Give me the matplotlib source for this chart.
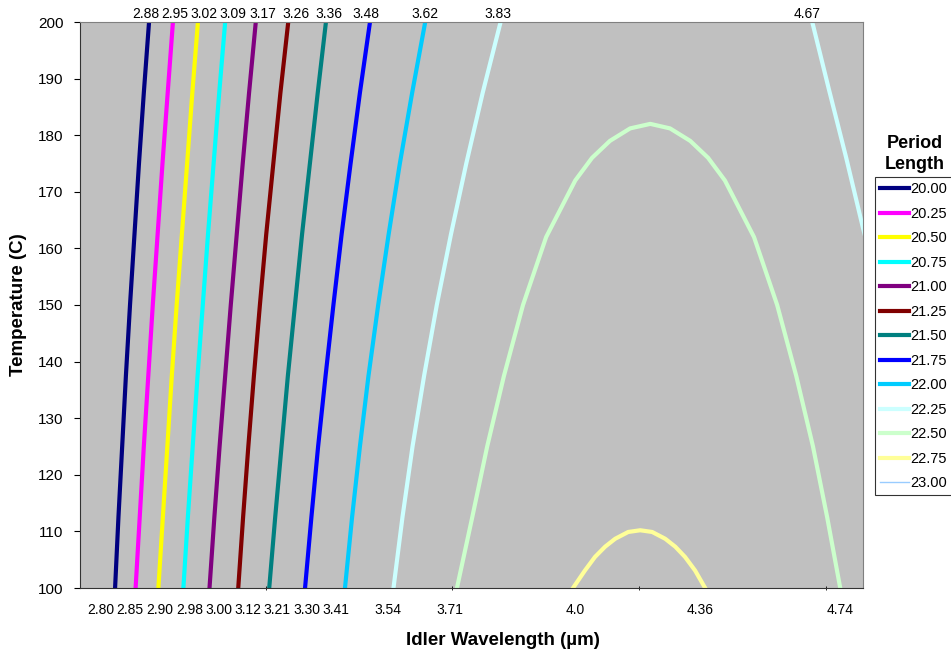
import numpy as np
import matplotlib.pyplot as plt

plt.rcParams['font.family'] = ['Liberation Sans', 'DejaVu Sans']

# temperature points (C) for the near-vertical curves
temps = [100, 112.5, 125, 137.5, 150, 162.5, 175, 187.5, 200]

periods = ['20.00', '20.25', '20.50', '20.75', '21.00', '21.25', '21.50',
           '21.75', '22.00', '22.25', '22.50', '22.75', '23.00']
colors = ['#000080', '#FF00FF', '#FFFF00', '#00FFFF', '#800080', '#800000',
          '#008080', '#0000FF', '#00CCFF', '#CCFFFF', '#CCFFCC', '#FFFF99',
          '#99CCFF']

wl_2000 = [2.796, 2.805, 2.815, 2.825, 2.836, 2.848, 2.860, 2.873, 2.887]
wl_2025 = [2.851, 2.862, 2.873, 2.885, 2.897, 2.910, 2.923, 2.937, 2.951]
wl_2050 = [2.912, 2.924, 2.936, 2.948, 2.961, 2.975, 2.989, 3.003, 3.018]
wl_2075 = [2.979, 2.991, 3.004, 3.017, 3.031, 3.045, 3.060, 3.075, 3.091]
wl_2100 = [3.049, 3.062, 3.076, 3.091, 3.106, 3.122, 3.138, 3.155, 3.173]
wl_2125 = [3.126, 3.139, 3.153, 3.168, 3.184, 3.201, 3.220, 3.239, 3.260]
wl_2150 = [3.209, 3.225, 3.242, 3.259, 3.278, 3.297, 3.318, 3.339, 3.361]
wl_2175 = [3.305, 3.322, 3.340, 3.360, 3.381, 3.403, 3.427, 3.452, 3.479]
wl_2200 = [3.412, 3.431, 3.452, 3.475, 3.501, 3.529, 3.559, 3.592, 3.627]
wl_2225 = [3.542, 3.566, 3.593, 3.624, 3.658, 3.696, 3.737, 3.781, 3.829]

# right-hand branch of 22.25 (leaves the plot at the right edge)
t_2225b = [200, 188, 176, 163.6, 160]
wl_2225b = [4.664, 4.709, 4.755, 4.800, 4.814]

# arches for 22.50 and 22.75
t_2250 = [100, 112.5, 125, 137.5, 150, 162, 172, 176, 179, 181.2, 182,
          181.2, 179, 176, 172, 162, 150, 137.5, 125, 112.5, 100]
wl_2250 = [3.712, 3.753, 3.793, 3.838, 3.889, 3.951, 4.029, 4.074, 4.122,
           4.176, 4.230, 4.283, 4.337, 4.385, 4.430, 4.508, 4.570, 4.621,
           4.666, 4.704, 4.739]
t_2275 = [100, 103.1, 105.5, 107.3, 108.7, 109.9, 110.2, 109.9, 108.7,
          107.3, 105.5, 103.1, 100]
wl_2275 = [4.023, 4.055, 4.082, 4.109, 4.136, 4.171, 4.203, 4.235, 4.270,
           4.297, 4.323, 4.350, 4.377]

bottom_labels = ['2.80', '2.85', '2.90', '2.98', '3.00', '3.12', '3.21',
                 '3.30', '3.41', '3.54', '3.71', '4.0', '4.36', '4.74']
bottom_label_pos = [2.758, 2.836, 2.917, 2.997, 3.075, 3.152, 3.230, 3.310,
                    3.388, 3.527, 3.694, 4.029, 4.364, 4.739]
top_labels = ['2.88', '2.95', '3.02', '3.09', '3.17', '3.26', '3.36',
              '3.48', '3.62', '3.83', '4.67']
top_label_pos = [2.879, 2.957, 3.034, 3.112, 3.193, 3.281, 3.369, 3.469,
                 3.627, 3.822, 4.650]

straight = [wl_2000, wl_2025, wl_2050, wl_2075, wl_2100, wl_2125, wl_2150,
            wl_2175, wl_2200, wl_2225]

fig = plt.figure(figsize=(9.51, 6.51), dpi=100)
ax = fig.add_axes([80 / 951, 63 / 651, 783 / 951, 566 / 651])
ax.set_facecolor('#C0C0C0')

lw = 3.0
handles = []
for i, wl in enumerate(straight):
    h, = ax.plot(wl, temps, color=colors[i], lw=lw, label=periods[i])
    handles.append(h)
ax.plot(wl_2225b, t_2225b, color=colors[9], lw=lw)
h, = ax.plot(wl_2250, t_2250, color=colors[10], lw=lw, label=periods[10])
handles.append(h)
h, = ax.plot(wl_2275, t_2275, color=colors[11], lw=lw, label=periods[11])
handles.append(h)
h, = ax.plot([], [], color=colors[12], lw=1.0, label=periods[12])
handles.append(h)

ax.set_xlim(2.702, 4.80)
ax.set_ylim(100, 200)
ax.set_yticks(np.arange(100, 201, 10))
ax.tick_params(axis='y', labelsize=11, length=4, direction='out', pad=8)

ax.set_xticks(bottom_label_pos)
ax.set_xticklabels(bottom_labels)
ax.tick_params(axis='x', labelsize=10, length=0, pad=11)
ax.set_xticks([3.2, 3.7, 4.2, 4.7], minor=True)
ax.tick_params(axis='x', which='minor', length=3, direction='inout')

sec = ax.secondary_xaxis('top')
sec.set_xticks(top_label_pos)
sec.set_xticklabels(top_labels)
sec.tick_params(length=0, labelsize=10, pad=0.5)
sec.spines['top'].set_visible(False)

for s in ['left', 'bottom']:
    ax.spines[s].set_color('#333333')
for s in ['top', 'right']:
    ax.spines[s].set_color('#808080')

ax.set_xlabel('Idler Wavelength (\u00b5m)', fontsize=13.5, fontweight='bold')
ax.xaxis.set_label_coords(0.540, -0.078)
ax.set_ylabel('Temperature (C)', fontsize=13.5, fontweight='bold',
              labelpad=8)

fig.text(915 / 951, 1 - 154 / 651, 'Period\nLength', ha='center',
         va='center', fontsize=13, fontweight='bold', linespacing=1.25)
leg = fig.legend(handles=handles, loc='upper left',
                 bbox_to_anchor=(875 / 951, 1 - 177 / 651), fontsize=10.5,
                 frameon=True, fancybox=False, edgecolor='black',
                 handlelength=2.0, handletextpad=0.05, labelspacing=0.72,
                 borderpad=0.35, borderaxespad=0)
leg.get_frame().set_linewidth(0.8)

fig.savefig('out.png', dpi=100)
